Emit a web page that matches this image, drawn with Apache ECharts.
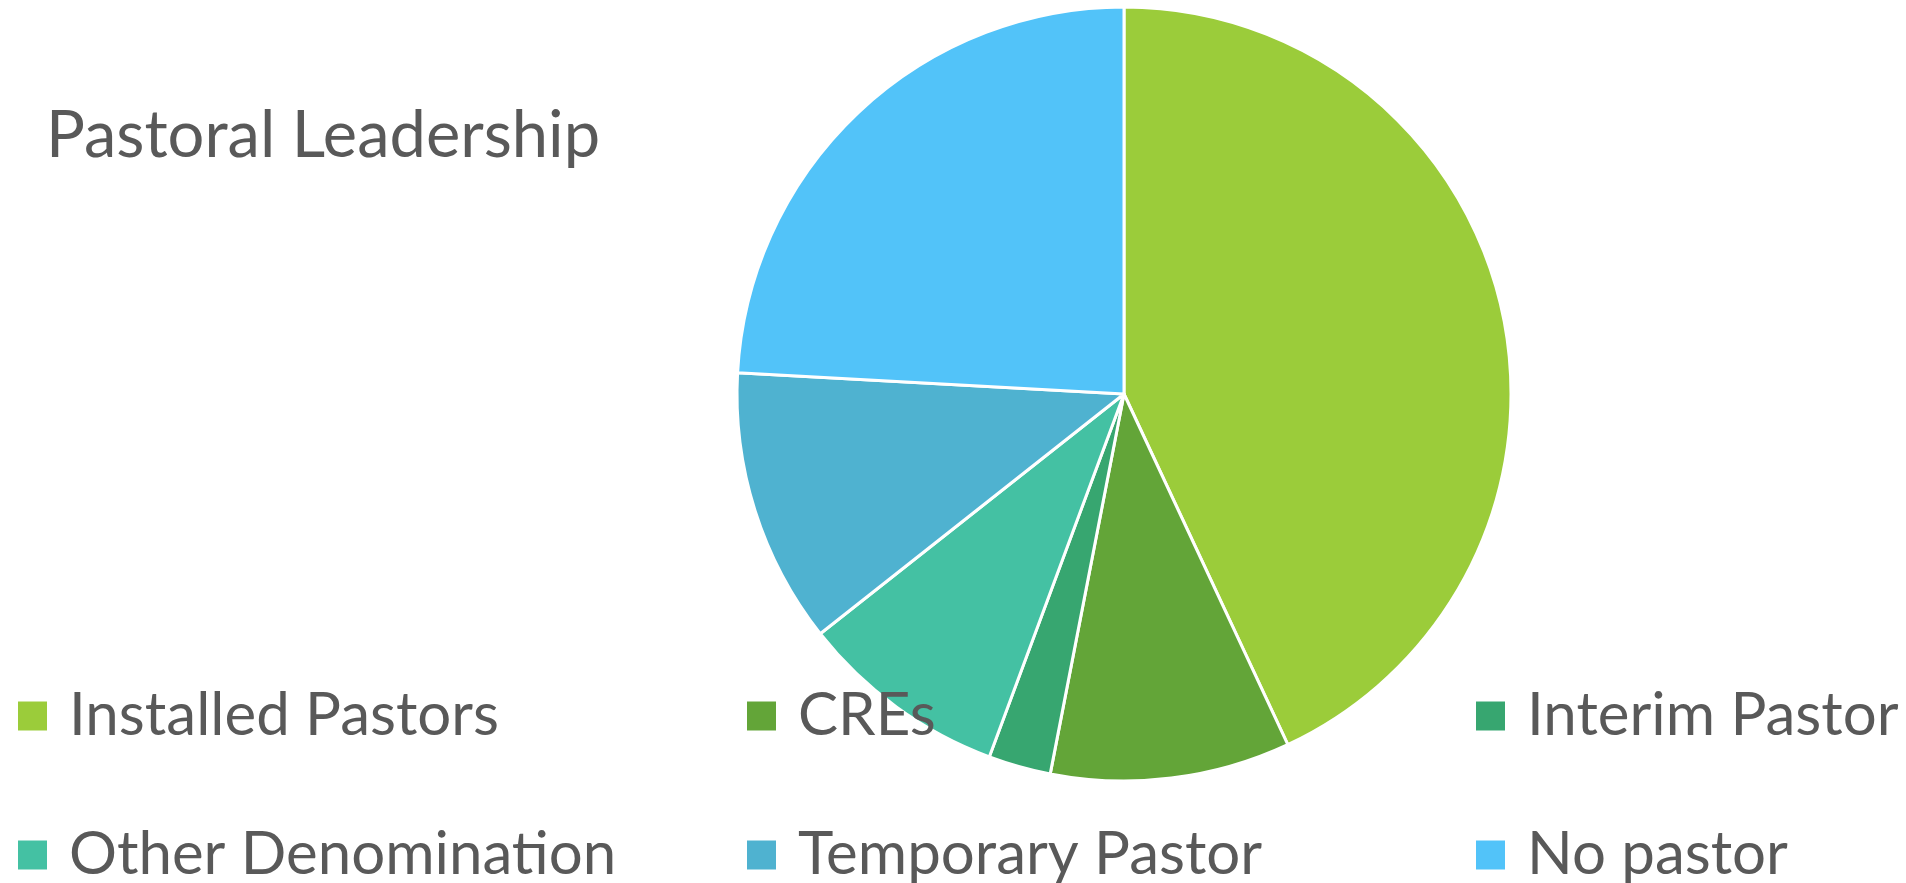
<!DOCTYPE html>
<html>
<head>
<meta charset="utf-8">
<script src="https://cdn.jsdelivr.net/npm/echarts@6/dist/echarts.min.js"></script>
<style>
  html, body { margin: 0; padding: 0; background: #fff; }
  #chart { width: 1906px; height: 883px; }
</style>
</head>
<body>
<div id="chart"></div>
<script>
// data (share of churches, %)
const categories = ['Installed Pastors', 'CREs', 'Interim Pastor', 'Other Denomination', 'Temporary Pastor', 'No pastor'];
const shares = [43.0, 10.0, 2.6, 8.7, 11.5, 24.1];
const colors = ['#9BCC3A', '#63A538', '#37A670', '#44C1A3', '#4FB2D0', '#52C3F9'];

const chart = echarts.init(document.getElementById('chart'));

const textColor = '#595959';
const font = 'Lato';

// legend laid out as a 3 x 2 grid, one small legend per item
const legends = categories.map((name, i) => ({
  data: [name],
  left: 16 + (i % 3) * 729,
  top: 686 + Math.floor(i / 3) * 139,
  padding: 0,
  itemWidth: 31,
  itemHeight: 31,
  icon: 'rect',
  selectedMode: false,
  textStyle: {
    color: textColor,
    fontFamily: font,
    fontSize: 60,
    lineHeight: 31,
    padding: [0, 0, 0, 16]
  }
}));

chart.setOption({
  animation: false,
  color: colors,
  title: {
    text: 'Pastoral Leadership',
    left: 46,
    top: 104,
    padding: 0,
    textStyle: {
      color: textColor,
      fontFamily: font,
      fontSize: 65,
      fontWeight: 'normal'
    }
  },
  legend: legends,
  series: [
    {
      type: 'pie',
      center: [1124, 394],
      radius: 387,
      startAngle: 90,
      clockwise: true,
      label: { show: false },
      labelLine: { show: false },
      itemStyle: { borderColor: '#fff', borderWidth: 3 },
      data: categories.map((name, i) => ({ name: name, value: shares[i] }))
    }
  ]
});
</script>
</body>
</html>
